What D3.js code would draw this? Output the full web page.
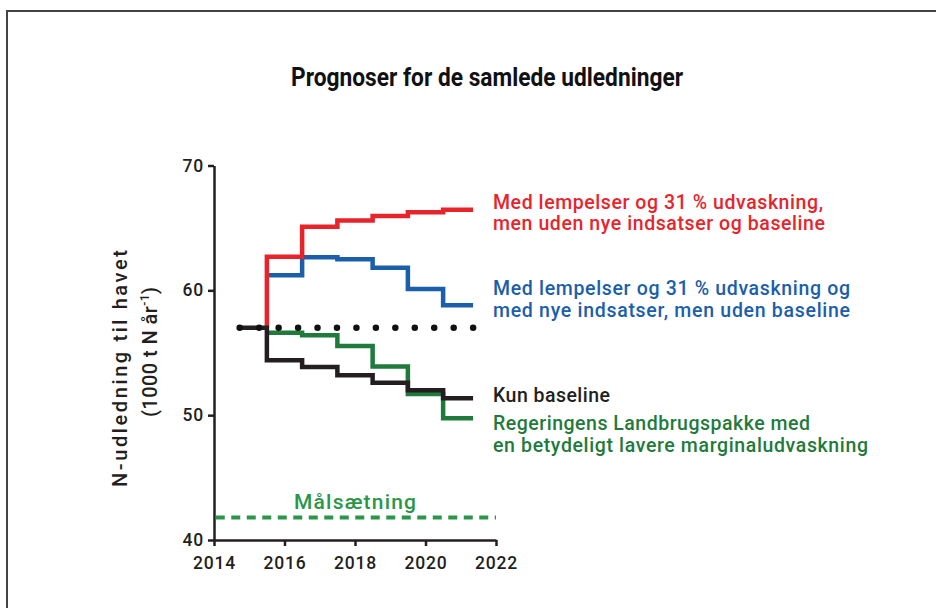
<!DOCTYPE html>
<html>
<head>
<meta charset="utf-8">
<script src="https://cdn.jsdelivr.net/npm/d3@7"></script>
<style>
  html, body { margin: 0; padding: 0; background: #fff; }
  svg { display: block; }
</style>
</head>
<body>
<svg id="chart" width="936" height="608"></svg>
<script>
// ---- data ----
const title = "Prognoser for de samlede udledninger";
const yTicks = [40, 50, 60, 70];
const xTicks = [2014, 2016, 2018, 2020, 2022];
const stepYears = [2015.5, 2016.5, 2017.5, 2018.5, 2019.5, 2020.5];
const endYear = 2021.35;
const startYear = 2014.65;
const startLevel = 57;
const baselineValues = [54.4, 53.85, 53.2, 52.6, 52.0, 51.35];
const redValues = [62.7, 65.1, 65.6, 65.95, 66.25, 66.45];
const blueValues = [61.2, 62.65, 62.5, 61.8, 60.1, 58.8];
const greenValues = [56.6, 56.4, 55.55, 53.9, 51.7, 49.75];
const referenceLevel = 57;      // dotted line
const targetLevel = 41.8;       // Målsætning
const targetLabel = "Målsætning";
const redLabel = ["Med lempelser og 31 % udvaskning,", "men uden nye indsatser og baseline"];
const blueLabel = ["Med lempelser og 31 % udvaskning og", "med nye indsatser, men uden baseline"];
const blackLabel = ["Kun baseline"];
const greenLabel = ["Regeringens Landbrugspakke med", "en betydeligt lavere marginaludvaskning"];
const yLabel1 = "N-udledning til havet";

// ---- drawing ----
const svg = d3.select("#chart");
svg.append("rect").attr("width", 936).attr("height", 608).attr("fill", "#fff");
svg.append("rect").attr("x", 7).attr("y", 11).attr("width", 960).attr("height", 640)
  .attr("fill", "none").attr("stroke", "#444").attr("stroke-width", 2);

const x = d3.scaleLinear().domain([2014, 2022]).range([214, 496]);
const y = d3.scaleLinear().domain([40, 70]).range([540, 165.5]);

const font = "Roboto, 'Liberation Sans', Arial, sans-serif";

// title
svg.append("text").attr("x", 291).attr("y", 86)
  .attr("font-family", "Roboto, 'Liberation Sans', sans-serif")
  .attr("font-weight", 700).attr("font-size", 25).attr("fill", "#111")
  .attr("textLength", 392).attr("lengthAdjust", "spacingAndGlyphs")
  .text(title);

// axes
const yAxis = svg.append("g").attr("transform", `translate(${x(2014)},0)`)
  .call(d3.axisLeft(y).tickValues(yTicks).tickSize(6).tickPadding(4).tickSizeOuter(0));
const xAxis = svg.append("g").attr("transform", `translate(0,${y(40)})`)
  .call(d3.axisBottom(x).tickValues(xTicks).tickFormat(d3.format("d")).tickSize(6).tickPadding(11).tickSizeOuter(0));
[yAxis, xAxis].forEach(g => {
  g.selectAll("path, line").attr("stroke", "#231f20").attr("stroke-width", 2.5);
  g.selectAll("text").attr("font-family", font).attr("font-size", 17.5).attr("font-weight", 500)
    .attr("letter-spacing", 0.8).attr("fill", "#231f20");
});

// y label
svg.append("text")
  .attr("transform", `translate(127,368.5) rotate(-90)`)
  .attr("text-anchor", "middle").attr("font-family", font).attr("font-size", 20).attr("font-weight", 500)
  .attr("fill", "#231f20").attr("textLength", 237).attr("lengthAdjust", "spacing")
  .text(yLabel1);
const yl2 = svg.append("text")
  .attr("transform", `translate(156.5,352) rotate(-90)`)
  .attr("text-anchor", "middle").attr("font-family", font).attr("font-size", 20).attr("font-weight", 500)
  .attr("fill", "#231f20").attr("textLength", 130).attr("lengthAdjust", "spacing");
yl2.append("tspan").text("(1000 t N år");
yl2.append("tspan").attr("font-size", 12).attr("dy", -8).text("-1");
yl2.append("tspan").attr("dy", 8).text(")");

const line = d3.line().x(d => x(d[0])).y(d => y(d[1])).curve(d3.curveStepAfter);
function stepPoints(values, lead) {
  const pts = lead ? [lead] : [];
  values.forEach((v, i) => pts.push([stepYears[i], v]));
  pts.push([endYear, values[values.length - 1]]);
  return pts;
}

// target dashed line
svg.append("path")
  .attr("d", d3.line().x(d => x(d[0])).y(d => y(d[1]))([[2014.05, targetLevel], [2022, targetLevel]]))
  .attr("stroke", "#2a9648").attr("stroke-width", 4).attr("fill", "none")
  .attr("stroke-dasharray", "9,6.5");
svg.append("text").attr("x", 294).attr("y", 508.5)
  .attr("font-family", font).attr("font-size", 21).attr("font-weight", 500).attr("fill", "#2a9648")
  .attr("textLength", 122).attr("lengthAdjust", "spacing")
  .text(targetLabel);

const series = [
  { values: blueValues, color: "#1b5eaa", lead: null },
  { values: redValues, color: "#e8242b", lead: [stepYears[0], startLevel] },
  { values: greenValues, color: "#1f7a3c", lead: null },
  { values: baselineValues, color: "#231f20", lead: [startYear, startLevel] }
];
series.forEach(s => {
  svg.append("path").attr("d", line(stepPoints(s.values, s.lead)))
    .attr("fill", "none").attr("stroke", s.color).attr("stroke-width", 4.5)
    .attr("stroke-linejoin", "miter");
});

// dotted reference line
svg.append("path")
  .attr("d", d3.line().x(d => x(d[0])).y(d => y(d[1]))([[2014.73, referenceLevel], [endYear + 0.01, referenceLevel]]))
  .attr("stroke", "#111").attr("stroke-width", 6.5).attr("fill", "none")
  .attr("stroke-linecap", "round").attr("stroke-dasharray", "0,19.45");

// legends
function legend(lines, color, y0, widths) {
  lines.forEach((t, i) => {
    svg.append("text").attr("x", 493).attr("y", y0 + i * 21.7)
      .attr("font-family", font).attr("font-size", 19.5).attr("font-weight", 500).attr("fill", color)
      .attr("textLength", widths[i]).attr("lengthAdjust", "spacing")
      .text(t);
  });
}
legend(redLabel, "#e8242b", 208.5, [330, 332]);
legend(blueLabel, "#1b5eaa", 295, [357, 357]);
legend(blackLabel, "#231f20", 401.5, [117]);
legend(greenLabel, "#1f7a3c", 430, [317, 375]);
</script>
</body>
</html>
